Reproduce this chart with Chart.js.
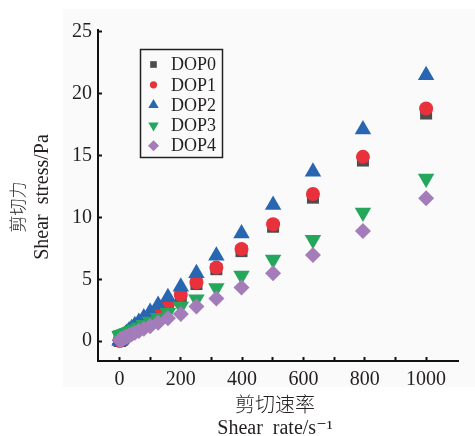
<!DOCTYPE html>
<html>
<head>
<meta charset="utf-8">
<script src="https://cdn.jsdelivr.net/npm/chart.js@4/dist/chart.umd.min.js"></script>
<style>
  body { margin: 0; background: #fff; }
  canvas { display: block; }
</style>
</head>
<body>
<canvas id="flowChart" width="475" height="436"></canvas>
<script>
// shear rate sweep, 10 points per decade
const shearRate = [1, 1.26, 1.58, 2, 2.51, 3.16, 3.98, 5.01, 6.31, 7.94,
  10, 12.6, 15.8, 20, 25.1, 31.6, 39.8, 50.1, 63.1, 79.4,
  100, 126, 158, 200, 251, 316, 398, 501, 631, 794, 1000]

// shear stress (Pa) for each sample
const dop0 = [0.03, 0.04, 0.05, 0.06, 0.07, 0.09, 0.11, 0.13, 0.16, 0.19,
  0.24, 0.29, 0.36, 0.44, 0.55, 0.67, 0.83, 1.02, 1.27, 1.56,
  1.92, 2.38, 2.93, 3.66, 4.62, 5.82, 7.28, 9.25, 11.6, 14.6, 18.4]
const dop1 = [0.04, 0.04, 0.05, 0.06, 0.08, 0.09, 0.11, 0.14, 0.17, 0.2,
  0.25, 0.3, 0.37, 0.45, 0.56, 0.69, 0.85, 1.05, 1.3, 1.6,
  1.97, 2.45, 3.0, 3.75, 4.75, 5.95, 7.45, 9.45, 11.9, 14.9, 18.8]
const dop2 = [0.04, 0.05, 0.06, 0.07, 0.09, 0.11, 0.14, 0.17, 0.21, 0.26,
  0.32, 0.39, 0.47, 0.58, 0.7, 0.86, 1.05, 1.28, 1.56, 1.92,
  2.37, 2.92, 3.56, 4.4, 5.5, 6.9, 8.7, 11.0, 13.7, 17.1, 21.5]
const dop3 = [0.4, 0.41, 0.42, 0.43, 0.44, 0.45, 0.46, 0.47, 0.48, 0.5,
  0.52, 0.55, 0.58, 0.62, 0.68, 0.75, 0.84, 0.96, 1.12, 1.33,
  1.6, 1.9, 2.3, 2.8, 3.4, 4.3, 5.3, 6.6, 8.2, 10.4, 13.15]
const dop4 = [0.07, 0.08, 0.08, 0.09, 0.1, 0.11, 0.12, 0.13, 0.15, 0.17,
  0.2, 0.23, 0.27, 0.32, 0.38, 0.46, 0.56, 0.68, 0.82, 1.0,
  1.2, 1.5, 1.85, 2.2, 2.8, 3.45, 4.35, 5.5, 6.96, 8.9, 11.55]

const seriesNames = ['DOP0', 'DOP1', 'DOP2', 'DOP3', 'DOP4']
const seriesValues = [dop0, dop1, dop2, dop3, dop4]
const seriesColors = ['#4d4d4f', '#e8313b', '#2866b2', '#25a75b', '#a47cba']
const seriesStyles = ['rect', 'circle', 'triangle', 'triangle', 'rectRot']
const seriesRotation = [0, 0, 0, 180, 0]
const seriesRadius = [8.5, 7, 9.5, 9.5, 8]
const legendRadius = [4.7, 3.6, 6, 6, 5.5]

const textColor = '#231f20'
const serif = '"Liberation Serif", "DejaVu Serif", serif'
const cjk = '"Noto Sans CJK SC", sans-serif'

const datasets = seriesNames.map((name, i) => ({
  label: name,
  data: shearRate.map((x, j) => ({ x: x, y: seriesValues[i][j] })),
  backgroundColor: seriesColors[i],
  borderColor: seriesColors[i],
  borderWidth: 0,
  pointStyle: seriesStyles[i],
  pointRotation: seriesRotation[i],
  pointRadius: seriesRadius[i],
  pointHoverRadius: seriesRadius[i],
  order: seriesNames.length - 1 - i   // later samples sit on top
}))

// light panel behind the figure
const panelBg = {
  id: 'panelBg',
  beforeDraw(chart) {
    const ctx = chart.ctx
    ctx.save()
    ctx.fillStyle = '#fafafa'
    ctx.fillRect(63, 9, 412, 378)
    ctx.restore()
  }
}

// boxed legend in the upper left of the plot
const boxLegend = {
  id: 'boxLegend',
  afterDraw(chart) {
    const ctx = chart.ctx
    ctx.save()
    ctx.strokeStyle = '#222'
    ctx.lineWidth = 1.5
    ctx.strokeRect(140.5, 49.5, 82, 108)
    ctx.font = '18px ' + serif
    ctx.textBaseline = 'middle'
    ctx.textAlign = 'left'
    seriesNames.forEach((name, i) => {
      const y = 64.5 + i * 20.3
      ctx.fillStyle = seriesColors[i]
      Chart.helpers.drawPoint(ctx, {
        pointStyle: seriesStyles[i],
        rotation: seriesRotation[i],
        radius: legendRadius[i],
        borderWidth: 0
      }, 153.5, y)
      ctx.fillStyle = textColor
      ctx.fillText(name, 171, y + 1)
    })
    ctx.restore()
  }
}

// two-line axis titles (Chinese + English)
const axisTitles = {
  id: 'axisTitles',
  afterDraw(chart) {
    const ctx = chart.ctx
    ctx.save()
    ctx.fillStyle = textColor
    ctx.textAlign = 'center'
    ctx.textBaseline = 'middle'

    ctx.font = '300 20px ' + cjk
    ctx.fillText('剪切速率', 275, 404)
    ctx.font = '20px ' + serif
    ctx.fillText('Shear  rate/s\u207B\u00B9', 275, 429)

    ctx.translate(18, 207)
    ctx.rotate(-Math.PI / 2)
    ctx.font = '300 17px ' + cjk
    ctx.fillText('剪切力', 0, 0)
    ctx.restore()

    ctx.save()
    ctx.fillStyle = textColor
    ctx.textAlign = 'center'
    ctx.textBaseline = 'middle'
    ctx.translate(43, 197)
    ctx.rotate(-Math.PI / 2)
    ctx.font = '20px ' + serif
    ctx.fillText('Shear  stress/Pa', 0, 0)
    ctx.restore()
  }
}

const ctx = document.getElementById('flowChart').getContext('2d')

const flowChart = new Chart(ctx, {
  type: 'scatter',
  data: { datasets: datasets },
  options: {
    responsive: false,
    animation: false,
    devicePixelRatio: 1,
    layout: { padding: { top: 30, right: 17, left: 0, bottom: 0 } },
    plugins: {
      legend: { display: false },
      tooltip: { enabled: false }
    },
    scales: {
      x: {
        type: 'linear',
        min: -70,
        max: 1104,
        afterFit: (scale) => { scale.height = 75 },
        afterBuildTicks: (scale) => {
          scale.ticks = scale.ticks.filter(t => t.value >= 0 && t.value <= 1000)
        },
        border: { display: true, color: '#111', width: 2 },
        grid: { drawOnChartArea: false, drawTicks: true, tickLength: -4, tickWidth: 2, tickColor: '#111' },
        ticks: {
          stepSize: 100,
          includeBounds: false,
          autoSkip: false,
          maxRotation: 0,
          padding: 11,
          color: textColor,
          font: { family: serif, size: 20 },
          callback: (v) => (v % 200 === 0 ? v : '')
        }
      },
      y: {
        type: 'linear',
        min: -1.6,
        max: 25.15,
        afterFit: (scale) => { scale.width = 98 },
        border: { display: true, color: '#111', width: 2 },
        grid: { drawOnChartArea: false, drawTicks: true, tickLength: -4, tickWidth: 2, tickColor: '#111' },
        ticks: {
          stepSize: 5,
          includeBounds: false,
          padding: 10,
          color: textColor,
          font: { family: serif, size: 20 }
        }
      }
    }
  },
  plugins: [panelBg, boxLegend, axisTitles]
})
</script>
</body>
</html>
